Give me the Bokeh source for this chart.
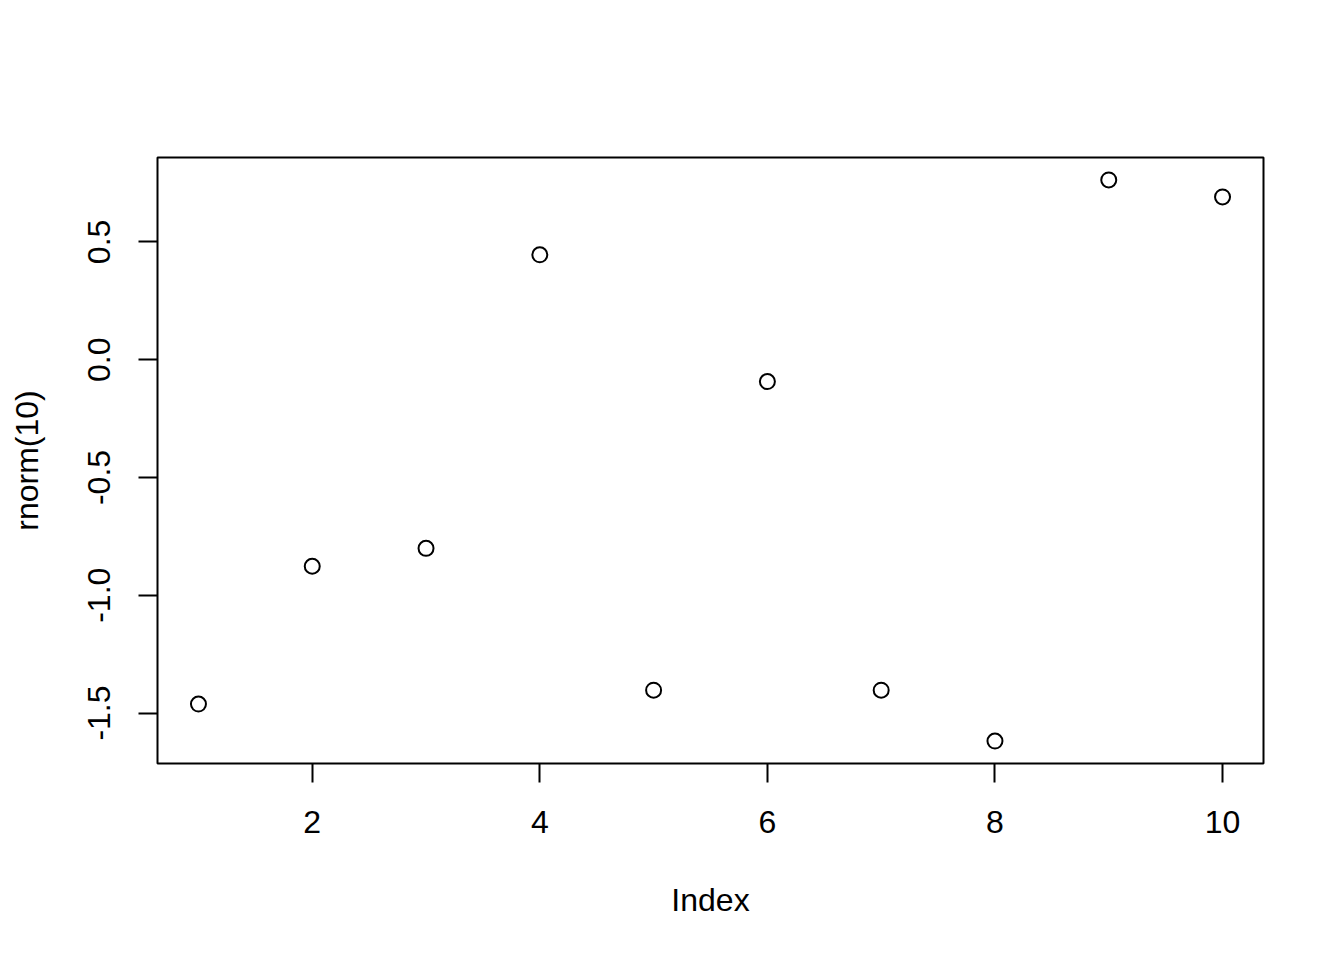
from bokeh.plotting import figure
from bokeh.models import Range1d, FixedTicker, CustomJSTickFormatter
from bokeh.embed import file_html
from bokeh.resources import INLINE

# Data
index = [1, 2, 3, 4, 5, 6, 7, 8, 9, 10]
values = [-1.462, -0.877, -0.801, 0.445, -1.403, -0.093, -1.403, -1.619, 0.763, 0.691]
x_ticks = [2, 4, 6, 8, 10]
y_ticks = [-1.5, -1.0, -0.5, 0.0, 0.5]
x_label = "Index"
y_label = "rnorm(10)"

def ext(lo, hi, f=0.04):
    d = (hi - lo) * f
    return lo - d, hi + d

xlo, xhi = ext(min(index), max(index))
ylo, yhi = ext(min(values), max(values))

FONT = "Liberation Sans"

p = figure(width=1328, height=944, output_backend="svg", toolbar_location=None,
           x_range=Range1d(xlo, xhi), y_range=Range1d(ylo, yhi),
           min_border_left=157, min_border_right=65, min_border_top=157, min_border_bottom=181)
p.background_fill_color = "white"
p.border_fill_color = "white"
p.outline_line_color = "black"
p.outline_line_width = 2
p.xgrid.visible = False
p.ygrid.visible = False

p.scatter(index, values, marker="circle", size=15, fill_color=None,
          line_color="black", line_width=2)

for ax in (p.xaxis[0], p.yaxis[0]):
    ax.axis_line_color = None
    ax.major_tick_line_color = "black"
    ax.major_tick_line_width = 2
    ax.major_tick_out = 19
    ax.major_tick_in = 0
    ax.minor_tick_line_color = None
    ax.major_label_text_font = FONT
    ax.major_label_text_font_size = "32px"
    ax.major_label_text_color = "black"
    ax.axis_label_text_font = FONT
    ax.axis_label_text_font_size = "32px"
    ax.axis_label_text_font_style = "normal"
    ax.axis_label_text_color = "black"

p.xaxis[0].ticker = FixedTicker(ticks=x_ticks)
p.yaxis[0].ticker = FixedTicker(ticks=y_ticks)
p.yaxis[0].formatter = CustomJSTickFormatter(code="return tick.toFixed(1);")
p.yaxis[0].major_label_orientation = "vertical"

p.xaxis[0].major_label_standoff = 28
p.yaxis[0].major_label_standoff = 28
p.xaxis[0].axis_label = x_label
p.yaxis[0].axis_label = y_label
p.xaxis[0].axis_label_standoff = 46
p.yaxis[0].axis_label_standoff = 41

open("out.html", "w").write(file_html(p, INLINE))
